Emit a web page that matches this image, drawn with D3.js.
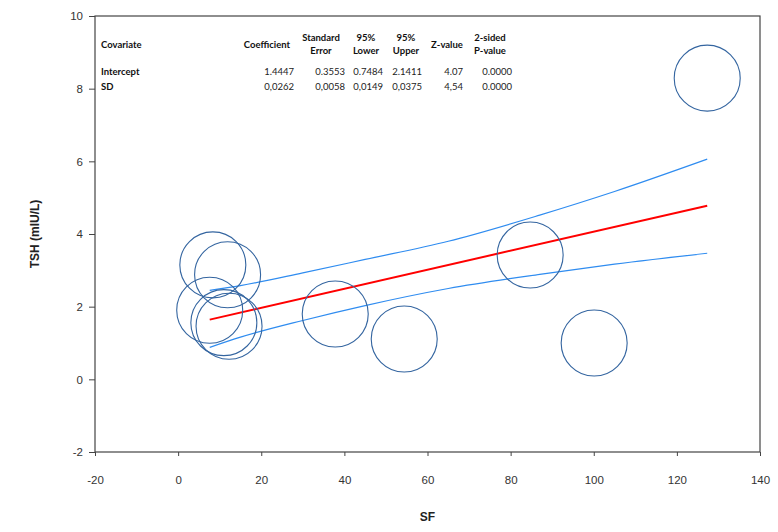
<!DOCTYPE html>
<html>
<head>
<meta charset="utf-8">
<script src="https://cdn.jsdelivr.net/npm/d3@7"></script>
<style>
  body { margin: 0; background: #fff; }
  svg { display: block; }
</style>
</head>
<body>
<script>
const WIDTH = 778;
const HEIGHT = 532;
const margin = { top: 16, right: 18, bottom: 80, left: 95 };

// studies (SF on x, TSH on y)
const studySF = [8.35, 11.9, 7.6, 11.0, 12.25, 37.8, 54.4, 84.7, 100.1, 127.3];
const studyTSH = [3.15, 2.88, 1.90, 1.56, 1.46, 1.80, 1.11, 3.42, 1.00, 8.29];

// regression line and its confidence band
const fitSF = [7.6, 127.3];
const fitTSH = [1.644, 4.780];
const bandSF = [7.6, 15, 30, 45, 65, 87, 105, 127.3];
const bandUpper = [2.45, 2.58, 2.93, 3.30, 3.80, 4.52, 5.17, 6.06];
const bandLower = [0.88, 1.16, 1.62, 2.03, 2.50, 2.89, 3.17, 3.47];

const xTicks = [-20, 0, 20, 40, 60, 80, 100, 120, 140];
const yTicks = [-2, 0, 2, 4, 6, 8, 10];

// coefficient table
const tableHeaders = [["Coefficient"], ["Standard", "Error"], ["95%", "Lower"], ["95%", "Upper"], ["Z-value"], ["2-sided", "P-value"]];
const tableRows = ["Intercept", "SD"];
const tableValues = [
    ["1.4447", "0.3553", "0.7484", "2.1411", "4.07", "0.0000"],
    ["0,0262", "0,0058", "0,0149", "0,0375", "4,54", "0.0000"],
];

function main() {
    const svg = d3.select("body").append("svg")
        .attr("width", WIDTH)
        .attr("height", HEIGHT)
        .attr("viewBox", [0, 0, WIDTH, HEIGHT]);

    const x = d3.scaleLinear().domain([-20, 140]).range([margin.left, WIDTH - margin.right]);
    const y = d3.scaleLinear().domain([-2, 10]).range([HEIGHT - margin.bottom, margin.top]);

    drawAxes(svg, x, y);
    drawTable(svg);

    const line = d3.line().x(d => x(d[0])).y(d => y(d[1])).curve(d3.curveMonotoneX);

    svg.append("g")
            .attr("fill", "none")
            .attr("stroke", "#2f8cf0")
            .attr("stroke-width", 1.2)
        .selectAll("path")
        .data([bandUpper, bandLower])
        .join("path")
            .attr("d", vals => line(bandSF.map((s, i) => [s, vals[i]])));

    svg.append("path")
        .attr("fill", "none")
        .attr("stroke", "#ff0000")
        .attr("stroke-width", 2)
        .attr("d", line(fitSF.map((s, i) => [s, fitTSH[i]])));

    svg.append("g")
            .attr("fill", "none")
            .attr("stroke", "#3465a0")
            .attr("stroke-width", 1.1)
        .selectAll("circle")
        .data(studySF.map((s, i) => [s, studyTSH[i]]))
        .join("circle")
            .attr("cx", d => x(d[0]))
            .attr("cy", d => y(d[1]))
            .attr("r", 33);
}

function drawAxes(svg, x, y) {
    const [x0, x1] = x.range();
    const [y0, y1] = y.range();

    svg.append("rect")
        .attr("x", x0).attr("y", y1)
        .attr("width", x1 - x0).attr("height", y0 - y1)
        .attr("fill", "none")
        .attr("stroke", "#444")
        .attr("stroke-width", 1.2);

    const yAxis = svg.append("g")
        .attr("transform", `translate(${x0},0)`)
        .call(d3.axisLeft(y).tickValues(yTicks).tickFormat(d => String(d)).tickSize(6).tickPadding(6));

    const xAxis = svg.append("g")
        .attr("transform", `translate(0,${y0})`)
        .call(d3.axisBottom(x).tickValues(xTicks).tickFormat(d => String(d)).tickSize(4).tickPadding(20));

    [xAxis, yAxis].forEach(g => {
        g.attr("font-family", "'Liberation Sans', Arial, sans-serif")
            .attr("font-size", 11.5);
        g.select(".domain").remove();
        g.selectAll("line").attr("stroke", "#444");
        g.selectAll("text").attr("fill", "#333");
    });

    svg.append("text")
        .attr("x", (x0 + x1) / 2)
        .attr("y", 521)
        .attr("text-anchor", "middle")
        .attr("font-family", "'Liberation Sans', Arial, sans-serif")
        .attr("font-weight", "bold")
        .attr("font-size", 12)
        .attr("fill", "#222")
        .text("SF");

    svg.append("text")
        .attr("transform", `translate(39,${(y0 + y1) / 2}) rotate(-90)`)
        .attr("text-anchor", "middle")
        .attr("font-family", "'Liberation Sans', Arial, sans-serif")
        .attr("font-weight", "bold")
        .attr("font-size", 12)
        .attr("fill", "#222")
        .text("TSH (mIU/L)");
}

function drawTable(svg) {
    const colCenters = [267, 321, 366, 406, 447, 490];
    const colRights = [294, 345, 383, 422, 463, 512];
    const g = svg.append("g")
        .attr("font-family", "Lato, 'Noto Sans', sans-serif")
        .attr("font-size", 9.5)
        .attr("fill", "#111");

    g.append("text")
        .attr("x", 101).attr("y", 47.5)
        .attr("font-weight", "bold")
        .text("Covariate");

    tableHeaders.forEach((lines, i) => {
        const ys = lines.length === 1 ? [47.5] : [41, 54];
        lines.forEach((t, j) => {
            g.append("text")
                .attr("x", colCenters[i]).attr("y", ys[j])
                .attr("text-anchor", "middle")
                .attr("font-weight", "bold")
                .text(t);
        });
    });

    const rowY = [75, 90];
    tableRows.forEach((name, r) => {
        g.append("text")
            .attr("x", 101).attr("y", rowY[r])
            .attr("font-weight", "bold")
            .text(name);
        tableValues[r].forEach((v, i) => {
            g.append("text")
                .attr("x", colRights[i]).attr("y", rowY[r])
                .attr("text-anchor", "end")
                .attr("fill", "#222")
                .text(v);
        });
    });
}

main();
</script>
</body>
</html>
